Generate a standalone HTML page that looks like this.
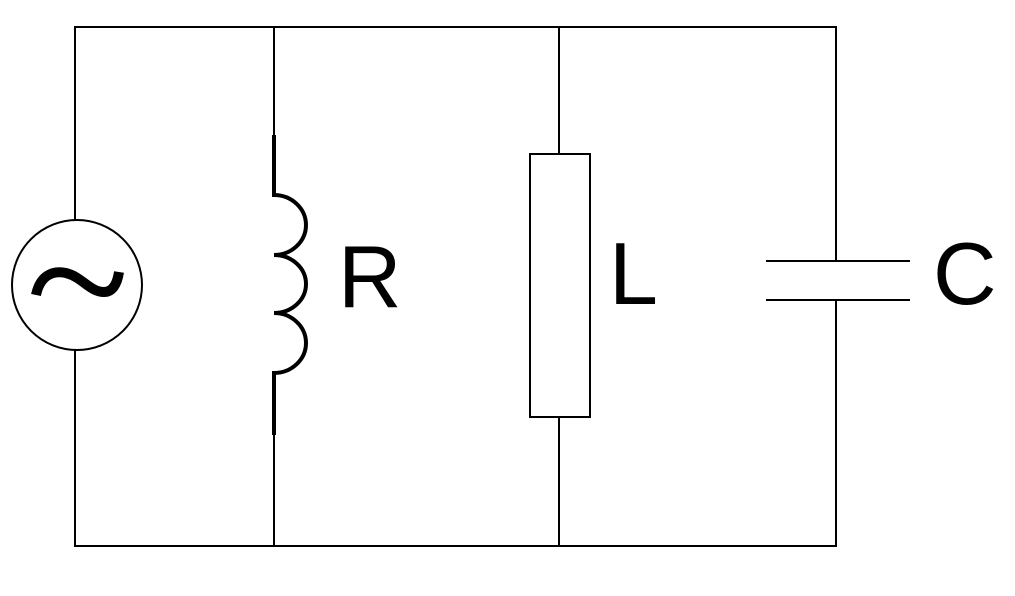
<!DOCTYPE html>
<html><head><meta charset="utf-8"><style>html,body{margin:0;padding:0;background:#fff;}svg{display:block}</style></head>
<body>
<svg width="1015" height="596" viewBox="0 0 1015 596">
<g fill="none" stroke="#000" stroke-width="2">
<path d="M75 220 V27 H836 V261"/>
<path d="M75 350 V546 H836 V300"/>
<path d="M274 27 V135"/>
<path d="M274 435 V546"/>
<path d="M559 27 V154"/>
<path d="M559 417 V546"/>
<circle cx="77" cy="285" r="65"/>
<rect x="530" y="154" width="60" height="263"/>
<path d="M766 261 H910"/>
<path d="M766 300 H910"/>
</g>
<path fill="none" stroke="#000" stroke-width="4" d="M274 135 V195 A32 30 0 0 1 274 255 A32 29 0 0 1 274 313 A32 30 0 0 1 274 373 V435"/>
<path fill="none" stroke="#000" stroke-width="10" stroke-linecap="butt" d="M36 295 C40 276, 52 270, 66 273 C82 277, 90 292, 104 292 C112 292, 117 285, 119 272"/>
<text x="338" y="307" font-family="Liberation Sans, sans-serif" font-size="88">R</text>
<text x="609" y="304" font-family="Liberation Sans, sans-serif" font-size="88">L</text>
<text x="933" y="304" font-family="Liberation Sans, sans-serif" font-size="88">C</text>
</svg>
</body></html>
